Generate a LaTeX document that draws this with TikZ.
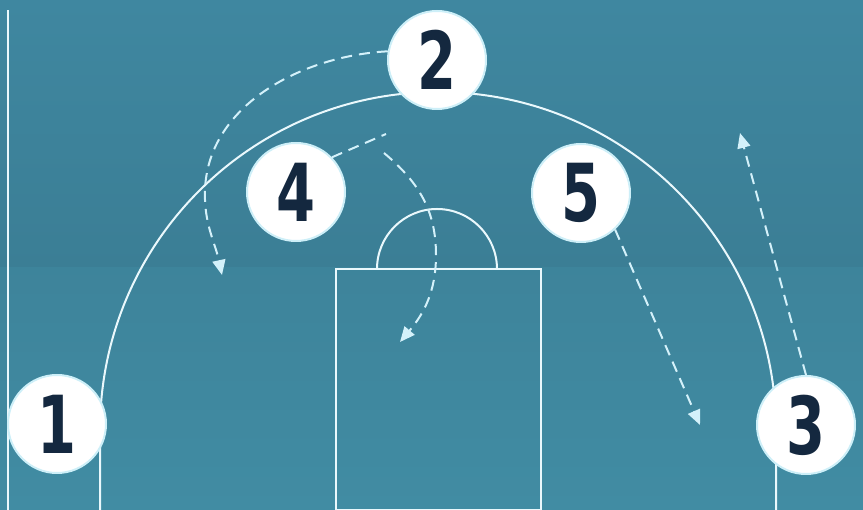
\documentclass[tikz,border=0pt]{standalone}
\usepackage{fontspec}
\newfontfamily\numfont{DejaVu Sans}[FakeStretch=0.7]
\usepackage{tikz}
\usetikzlibrary{arrows.meta}

\definecolor{courtbg}{HTML}{3F87A0}
\definecolor{courtband}{HTML}{3B7E95}
\definecolor{courtlow}{HTML}{418CA3}
\definecolor{courtline}{HTML}{EAF8FC}
\definecolor{runline}{HTML}{D4F1FA}
\definecolor{ringline}{HTML}{CDEFF8}
\definecolor{numink}{HTML}{14283F}

\begin{document}
\begin{tikzpicture}[
        x=1pt, y=1pt,
        player/.style={circle, draw=ringline, line width=2pt, fill=white, minimum size=98pt, inner sep=0pt, text=numink, font=\numfont\bfseries\fontsize{80}{80}\selectfont},
        court/.style={draw=courtline, line width=2pt},
        run/.style={draw=runline, line width=2pt, dash pattern=on 11pt off 7pt, -{Triangle[length=15pt, width=13pt]}},
        screen/.style={draw=runline, line width=2pt, dash pattern=on 11pt off 7pt}
    ]
        % Floor
        \useasboundingbox (0,0) rectangle (863,510);
        \shade[top color=courtbg, bottom color=courtband] (0,242) rectangle (863,510);
        \shade[top color=courtband!60!courtlow, bottom color=courtlow] (0,0) rectangle (863,242);

        % Court lines
        \draw[court] (8,0) -- (8,500);
        \draw[court] (100,0) -- (100,80) arc[start angle=180, end angle=0, radius=338] -- (776,0);
        \draw[court] (336,0) rectangle (541,241);
        \draw[court] (377,241) arc[start angle=180, end angle=0, radius=60];

        % Players
        \node[player] (p1) at (57,86) {1};
        \node[player] (p2) at (437,450) {2};
        \node[player] (p3) at (806,85) {3};
        \node[player] (p4) at (296,318) {4};
        \node[player] (p5) at (581,317) {5};

        % End points of the runs
        \coordinate (tip2) at (222,235);
        \coordinate (turn2) at (205,320);
        \coordinate (set4) at (386,376);
        \coordinate (cut4) at (384,357);
        \coordinate (low4) at (436,255);
        \coordinate (tip4) at (400,168);
        \coordinate (tip5) at (700,85);
        \coordinate (tip3) at (740,377);

        % Runs
        \draw[run] (p2.170) to[out=183, in=88, looseness=0.95] (turn2) to[out=-92, in=102] (tip2);
        \draw[screen] (p4.44) -- (set4);
        \draw[run] (cut4) to[out=-40, in=90] (low4) to[out=-90, in=50] (tip4);
        \draw[run] (p5.-47) -- (tip5);
        \draw[run] (p3.north) -- (tip3);
    \end{tikzpicture}
\end{document}
